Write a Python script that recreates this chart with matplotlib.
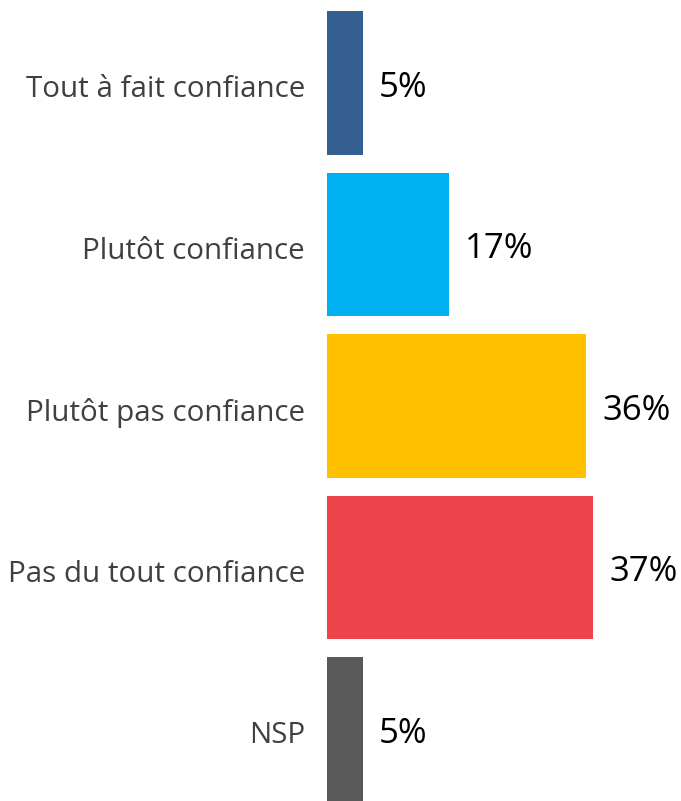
import numpy as np
import matplotlib
matplotlib.use('Agg')
import matplotlib.pyplot as plt

plt.rcParams['font.family'] = ['Open Sans', 'DejaVu Sans']

categories = ['Tout à fait confiance', 'Plutôt confiance', 'Plutôt pas confiance',
              'Pas du tout confiance', 'NSP']
values = [5, 17, 36, 37, 5]
colors = ['#365F91', '#00B0F0', '#FFC000', '#EE444B', '#595959']

fig = plt.figure(figsize=(6.81, 8.01), dpi=100)
ax = fig.add_axes([327 / 681, 0, 1 - 327 / 681, 1])

y = np.arange(len(categories))
ax.barh(y, values, height=0.89, color=colors)

# value labels just right of each bar
for yi, v in zip(y, values):
    ax.text(v + 2.2, yi + 0.03, '%d%%' % v, va='center', ha='left',
            fontsize=25, color='black')

ax.set_xlim(0, (681 - 327) / 7.2)
ax.set_ylim(4.446, -0.514)
ax.set_yticks(y + 0.02)
ax.set_yticklabels(categories, fontsize=21.3, color='#404040')
ax.tick_params(axis='y', length=0, pad=16)
ax.set_xticks([])
for s in ax.spines.values():
    s.set_visible(False)

plt.savefig('out.png', dpi=100)
plt.close()
